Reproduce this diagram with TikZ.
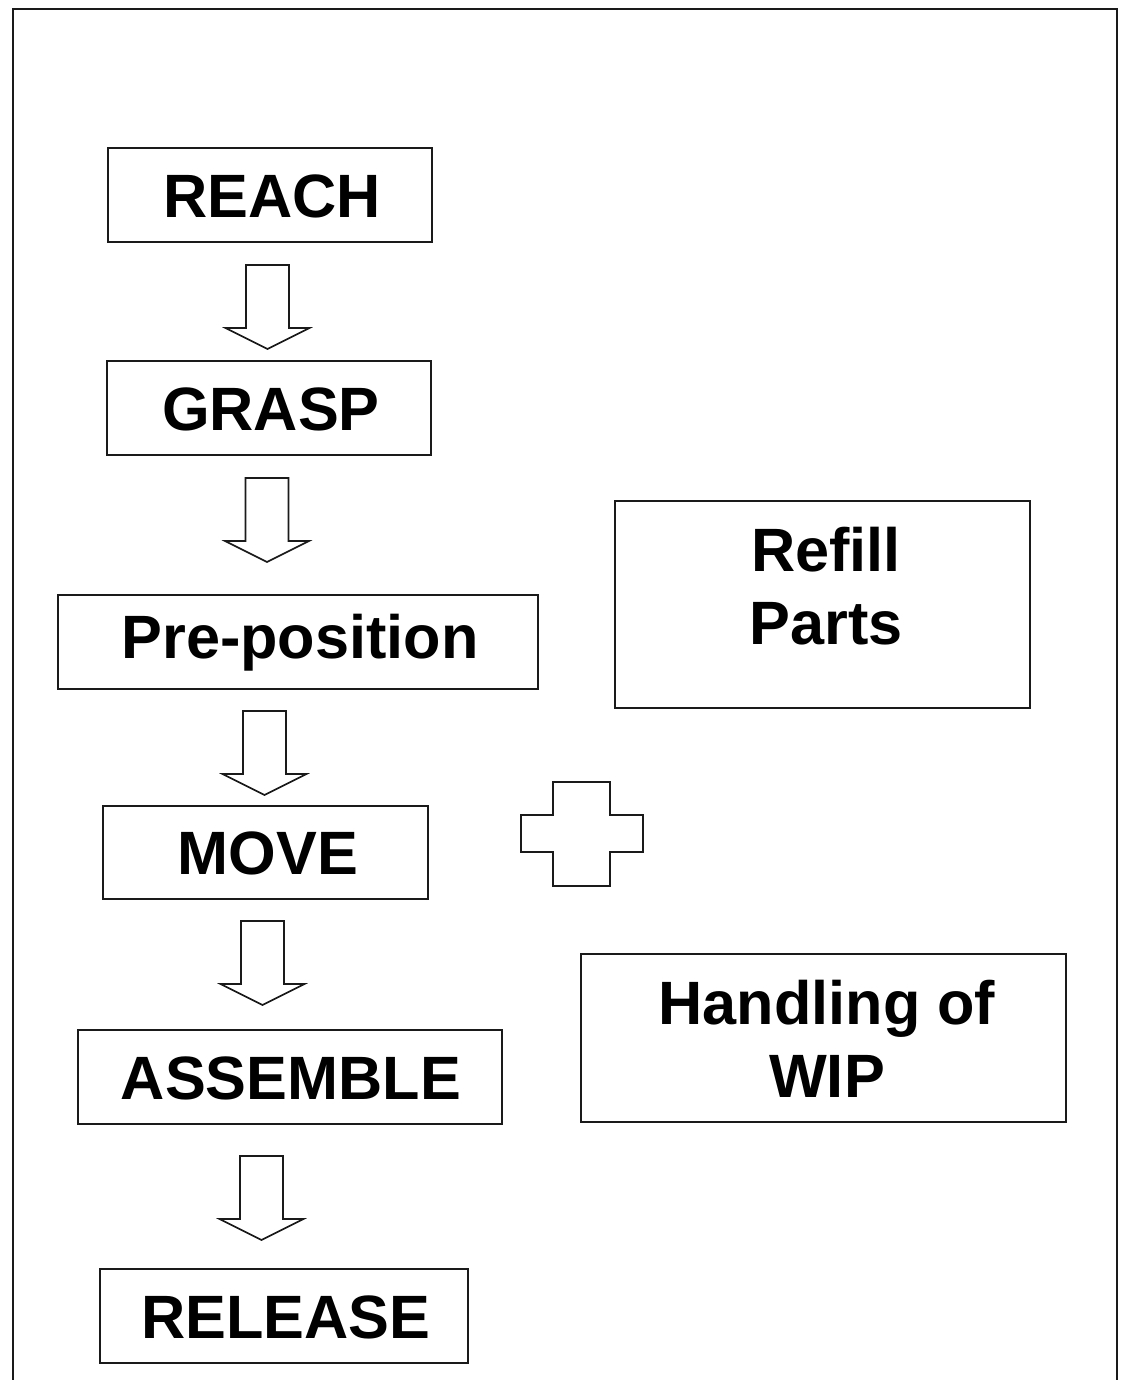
\documentclass[tikz,border=0pt]{standalone}
\usepackage{fontspec}
\setmainfont{Liberation Sans}
\usepackage{xcolor}
\usepackage{tikz}
\definecolor{ink}{HTML}{1A1A1A}
\newcommand{\flowarrow}[2]{%
\draw[arrowline] ({#1-21.5},{#2}) -- ({#1+21.5},{#2}) -- ({#1+21.5},{#2+63})
  -- ({#1+42},{#2+63}) -- ({#1},{#2+84}) -- ({#1-42},{#2+63})
  -- ({#1-21.5},{#2+63}) -- cycle;}
\tikzset{
  box/.style={draw=ink, line width=0.6pt},
  lbl/.style={text=black, font=\fontsize{30.6}{36.5}\selectfont\bfseries, align=center, inner sep=0pt},
  arrowline/.style={draw=ink, line width=0.8pt, line join=miter},
}
\begin{document}
\begin{tikzpicture}[x=0.5pt,y=-0.5pt]
\useasboundingbox (0,0) rectangle (1125,1380);
% outer frame, open at the bottom
\draw[ink, line width=0.8pt] (13,1380) -- (13,9) -- (1117,9) -- (1117,1380);
% the steps
\draw[box] (108,148) rectangle (432,242);
\node[lbl] (reach) at (272,196) {REACH};
\draw[box] (107,361) rectangle (431,455);
\node[lbl] (grasp) at (271,409) {GRASP};
\draw[box] (58,595) rectangle (538,689);
\node[lbl] (prepos) at (300,643) {Pre-position};
\draw[box] (103,806) rectangle (428,899);
\node[lbl] (move) at (268,853) {MOVE};
\draw[box] (78,1030) rectangle (502,1124);
\node[lbl] (assemble) at (291,1078) {ASSEMBLE};
\draw[box] (100,1269) rectangle (468,1363);
\node[lbl] (release) at (286,1317) {RELEASE};
% arrows between steps
\flowarrow{267.5}{265}
\flowarrow{267}{478}
\flowarrow{264.5}{711}
\flowarrow{262.5}{921}
\flowarrow{261.5}{1156}
% side boxes
\draw[box] (615,501) rectangle (1030,708);
\node[lbl] (refill) at (826,586) {Refill\\Parts};
\draw[box] (581,954) rectangle (1066,1122);
\node[lbl] (wip) at (827,1039) {Handling of\\WIP};
% plus sign
\draw[arrowline] (553,782) -- (610,782) -- (610,815) -- (643,815) -- (643,852)
  -- (610,852) -- (610,886) -- (553,886) -- (553,852) -- (521,852) -- (521,815)
  -- (553,815) -- cycle;
\end{tikzpicture}
\end{document}
